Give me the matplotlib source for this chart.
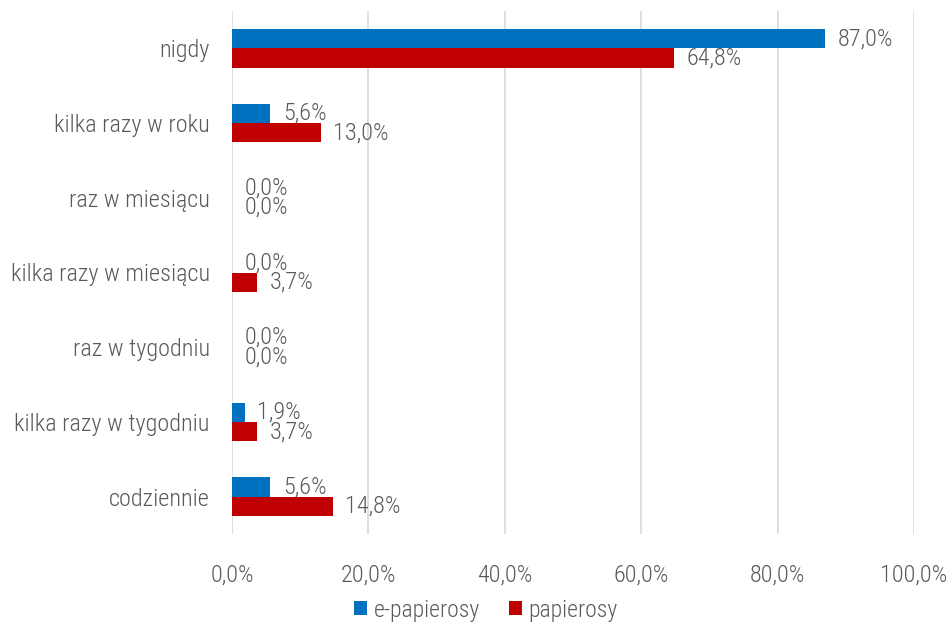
import matplotlib.pyplot as plt
import numpy as np
from matplotlib.ticker import FuncFormatter

plt.rcParams['font.family'] = ['Roboto Condensed', 'Roboto', 'DejaVu Sans']
plt.rcParams['font.weight'] = 'light'

categories = ['nigdy', 'kilka razy w roku', 'raz w miesiącu', 'kilka razy w miesiącu',
              'raz w tygodniu', 'kilka razy w tygodniu', 'codziennie']
e_papierosy = [87.0, 5.6, 0.0, 0.0, 0.0, 1.9, 5.6]
papierosy = [64.8, 13.0, 0.0, 3.7, 0.0, 3.7, 14.8]
series_names = ['e-papierosy', 'papierosy']

grey = '#595959'
fig = plt.figure(figsize=(9.5, 6.22), dpi=100)
ax = fig.add_axes([232/950, 1-534/622, (914-232)/950, (534-11)/622])

y = np.arange(len(categories))
h = 0.26
b1 = ax.barh(y - h/2, e_papierosy, height=h, color='#0070C0', label=series_names[0])
b2 = ax.barh(y + h/2, papierosy, height=h, color='#C00000', label=series_names[1])

fmt = lambda v: f'{v:.1f}%'.replace('.', ',')
for bars, vals in ((b1, e_papierosy), (b2, papierosy)):
    for bar, v in zip(bars, vals):
        ax.annotate(fmt(v), (v, bar.get_y() + bar.get_height()/2), xytext=(9, 0),
                    textcoords='offset points', va='center', ha='left',
                    fontsize=17.5, color=grey)

ax.set_ylim(len(categories) - 0.5, -0.5)
ax.set_yticks(y)
ax.set_yticklabels(categories)
ax.set_xlim(0, 100)
ax.set_xticks(np.arange(0, 101, 20))
ax.xaxis.set_major_formatter(FuncFormatter(lambda v, p: fmt(v)))
ax.tick_params(axis='both', length=0, labelsize=17.5, labelcolor=grey)
ax.tick_params(axis='x', pad=21)
ax.tick_params(axis='y', pad=16)
for s in ax.spines.values():
    s.set_visible(False)
ax.grid(axis='x', color='#D9D9D9', linewidth=1.2)
ax.set_axisbelow(True)

leg = fig.legend(loc='center', bbox_to_anchor=(486/950, 1-610/622), ncol=2, frameon=False,
                 fontsize=17, handlelength=0.55, handleheight=0.55, handletextpad=0.3,
                 columnspacing=1.2, labelcolor=grey)

fig.savefig('out.png', dpi=100)
